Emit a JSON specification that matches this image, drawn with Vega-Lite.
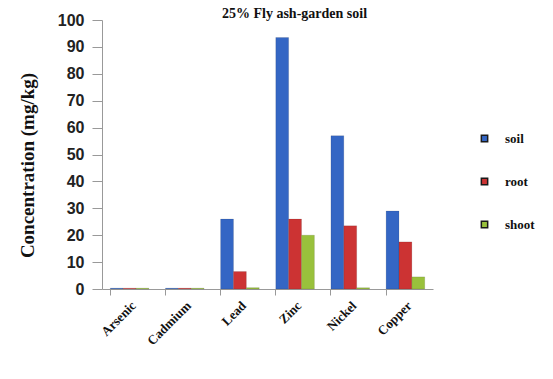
{
  "$schema": "https://vega.github.io/schema/vega-lite/v6.json",
  "autosize": {"type": "none"},
  "width": 331,
  "height": 269,
  "padding": {"left": 102, "top": 20, "right": 120, "bottom": 90},
  "background": "white",
  "title": {
    "text": "25% Fly ash-garden soil",
    "font": "Liberation Serif",
    "fontSize": 14,
    "fontWeight": "bold",
    "color": "#111111",
    "anchor": "middle",
    "dx": 27,
    "offset": -9
  },
  "data": {
    "values": [
      {"metal": "Arsenic", "part": "soil", "value": 0.3},
      {"metal": "Arsenic", "part": "root", "value": 0.3},
      {"metal": "Arsenic", "part": "shoot", "value": 0.3},
      {"metal": "Cadmium", "part": "soil", "value": 0.3},
      {"metal": "Cadmium", "part": "root", "value": 0.3},
      {"metal": "Cadmium", "part": "shoot", "value": 0.3},
      {"metal": "Lead", "part": "soil", "value": 26},
      {"metal": "Lead", "part": "root", "value": 6.5},
      {"metal": "Lead", "part": "shoot", "value": 0.5},
      {"metal": "Zinc", "part": "soil", "value": 93.5},
      {"metal": "Zinc", "part": "root", "value": 26},
      {"metal": "Zinc", "part": "shoot", "value": 20},
      {"metal": "Nickel", "part": "soil", "value": 57},
      {"metal": "Nickel", "part": "root", "value": 23.5},
      {"metal": "Nickel", "part": "shoot", "value": 0.5},
      {"metal": "Copper", "part": "soil", "value": 29},
      {"metal": "Copper", "part": "root", "value": 17.5},
      {"metal": "Copper", "part": "shoot", "value": 4.5}
    ]
  },
  "mark": {"type": "bar", "stroke": "#1a1a1a", "strokeWidth": 0.3, "strokeOpacity": 0.4},
  "encoding": {
    "x": {
      "field": "metal",
      "type": "nominal",
      "sort": ["Arsenic", "Cadmium", "Lead", "Zinc", "Nickel", "Copper"],
      "scale": {"paddingInner": 0.3, "paddingOuter": 0.15},
      "axis": {
        "title": null,
        "labelAngle": -45,
        "labelFont": "Liberation Serif",
        "labelFontSize": 13,
        "labelFontWeight": "bold",
        "labelColor": "#111111",
        "labelPadding": 4,
        "bandPosition": 0,
        "domainColor": "#999999",
        "tickColor": "#999999",
        "tickSize": 6
      }
    },
    "xOffset": {
      "field": "part",
      "type": "nominal",
      "sort": ["soil", "root", "shoot"]
    },
    "y": {
      "field": "value",
      "type": "quantitative",
      "scale": {"domain": [0, 100]},
      "axis": {
        "title": "Concentration (mg/kg)",
        "titleFont": "Liberation Serif",
        "titleFontSize": 19,
        "titleFontWeight": "bold",
        "titleColor": "#111111",
        "titlePadding": 20,
        "titleY": 145,
        "values": [0, 10, 20, 30, 40, 50, 60, 70, 80, 90, 100],
        "labelFont": "Liberation Sans",
        "labelFontSize": 16,
        "labelFontWeight": "bold",
        "labelColor": "#222222",
        "labelPadding": 8,
        "tickSize": 10,
        "tickColor": "#999999",
        "domainColor": "#999999",
        "grid": false
      }
    },
    "color": {
      "field": "part",
      "type": "nominal",
      "sort": ["soil", "root", "shoot"],
      "scale": {"domain": ["soil", "root", "shoot"], "range": ["#3466c4", "#cc3333", "#99c13c"]},
      "legend": {
        "title": null,
        "orient": "none",
        "legendX": 376,
        "legendY": 112,
        "symbolType": "square",
        "symbolSize": 40,
        "labelFont": "Liberation Serif",
        "labelFontSize": 13,
        "labelFontWeight": "bold",
        "labelColor": "#111111",
        "labelOffset": 14,
        "rowPadding": 29
      }
    }
  },
  "config": {"view": {"stroke": null}}
}
